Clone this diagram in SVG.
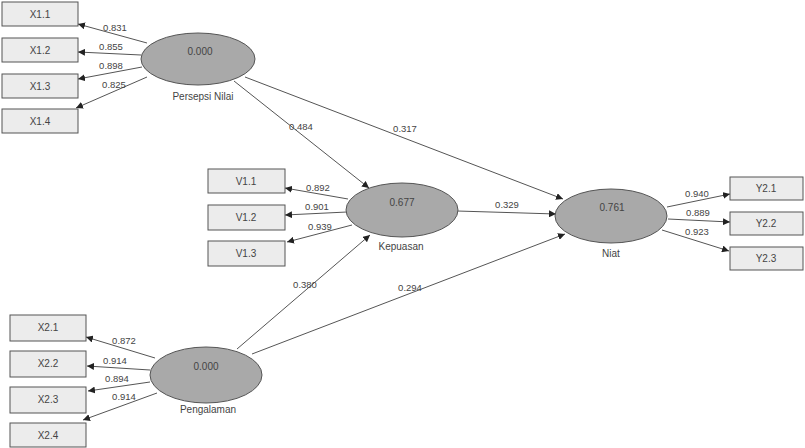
<svg xmlns="http://www.w3.org/2000/svg" width="805" height="448" viewBox="0 0 805 448">
<style>
text{font-family:"Liberation Sans",Arial,sans-serif;font-size:10px;fill:#444;text-anchor:middle}
.box rect{fill:#ececec;stroke:#555;stroke-width:1}
.lv ellipse{fill:#a9a9a9;stroke:#555;stroke-width:1}
.cn line{stroke:#555;stroke-width:1;marker-end:url(#ah)}
.cl text{font-size:9.5px}
</style>
<defs>
<marker id="ah" viewBox="0 0 10 10" refX="10" refY="5" markerWidth="7" markerHeight="7" markerUnits="userSpaceOnUse" orient="auto">
<path d="M0,0 L10,5 L0,10 z" fill="#222"/>
</marker>
</defs>
<rect width="805" height="448" fill="#fff"/>
<g class="cn" id="connectors">
<line x1="147" y1="43" x2="78" y2="24"/>
<line x1="141" y1="55" x2="78" y2="52"/>
<line x1="142" y1="67" x2="78" y2="79"/>
<line x1="147" y1="77" x2="76" y2="108"/>
<line x1="348" y1="199" x2="285" y2="188"/>
<line x1="347" y1="212" x2="285" y2="215"/>
<line x1="352" y1="225" x2="287" y2="242"/>
<line x1="667" y1="207" x2="730" y2="194"/>
<line x1="668" y1="219" x2="730" y2="222"/>
<line x1="662" y1="230" x2="729" y2="251"/>
<line x1="155" y1="358" x2="86" y2="337"/>
<line x1="150" y1="370" x2="87" y2="366"/>
<line x1="150" y1="382" x2="88" y2="391"/>
<line x1="157" y1="393" x2="83" y2="420"/>
<line x1="234" y1="81" x2="369" y2="188"/>
<line x1="245" y1="77" x2="563" y2="199"/>
<line x1="457" y1="211" x2="556" y2="214"/>
<line x1="237" y1="349" x2="370" y2="235"/>
<line x1="252" y1="354" x2="565" y2="234"/>
</g>
<g class="cl" id="connector-labels">
<text x="115" y="31">0.831</text>
<text x="111" y="50">0.855</text>
<text x="111" y="69">0.898</text>
<text x="114" y="88">0.825</text>
<text x="318" y="191">0.892</text>
<text x="317" y="210">0.901</text>
<text x="320" y="230">0.939</text>
<text x="697" y="197">0.940</text>
<text x="698" y="216">0.889</text>
<text x="697" y="235">0.923</text>
<text x="124" y="344">0.872</text>
<text x="115" y="364">0.914</text>
<text x="117" y="382">0.894</text>
<text x="124" y="400">0.914</text>
<text x="301" y="130">0.484</text>
<text x="405" y="132">0.317</text>
<text x="507" y="208">0.329</text>
<text x="305" y="288">0.380</text>
<text x="410" y="291">0.294</text>
</g>
<g class="box" id="X1.1"><rect x="2" y="2" width="76" height="24"/><text x="40" y="18">X1.1</text></g>
<g class="box" id="X1.2"><rect x="2" y="38" width="76" height="24"/><text x="40" y="54">X1.2</text></g>
<g class="box" id="X1.3"><rect x="2" y="74" width="76" height="24"/><text x="40" y="90">X1.3</text></g>
<g class="box" id="X1.4"><rect x="2" y="109" width="76" height="24"/><text x="40" y="125">X1.4</text></g>
<g class="box" id="V1.1"><rect x="208" y="169" width="77" height="24"/><text x="246" y="185">V1.1</text></g>
<g class="box" id="V1.2"><rect x="208" y="205" width="77" height="25"/><text x="246" y="221">V1.2</text></g>
<g class="box" id="V1.3"><rect x="208" y="241" width="77" height="25"/><text x="246" y="257">V1.3</text></g>
<g class="box" id="Y2.1"><rect x="730" y="177" width="73" height="23"/><text x="766" y="192">Y2.1</text></g>
<g class="box" id="Y2.2"><rect x="730" y="212" width="73" height="23"/><text x="766" y="227">Y2.2</text></g>
<g class="box" id="Y2.3"><rect x="730" y="247" width="73" height="23"/><text x="766" y="262">Y2.3</text></g>
<g class="box" id="X2.1"><rect x="10" y="315" width="76" height="26"/><text x="48" y="331">X2.1</text></g>
<g class="box" id="X2.2"><rect x="10" y="351" width="76" height="26"/><text x="48" y="367">X2.2</text></g>
<g class="box" id="X2.3"><rect x="10" y="387" width="76" height="26"/><text x="48" y="403">X2.3</text></g>
<g class="box" id="X2.4"><rect x="10" y="423" width="76" height="24"/><text x="48" y="439">X2.4</text></g>
<g class="lv" id="PersepsiNilai"><ellipse cx="198" cy="59" rx="57" ry="26"/><text x="200" y="55">0.000</text><text x="203" y="100">Persepsi Nilai</text></g>
<g class="lv" id="Kepuasan"><ellipse cx="402" cy="210" rx="56" ry="27"/><text x="402" y="206">0.677</text><text x="401" y="250">Kepuasan</text></g>
<g class="lv" id="Niat"><ellipse cx="611" cy="216" rx="56" ry="27"/><text x="612" y="211">0.761</text><text x="611" y="257">Niat</text></g>
<g class="lv" id="Pengalaman"><ellipse cx="206" cy="375" rx="56" ry="28"/><text x="206" y="370">0.000</text><text x="208" y="413">Pengalaman</text></g>
</svg>
